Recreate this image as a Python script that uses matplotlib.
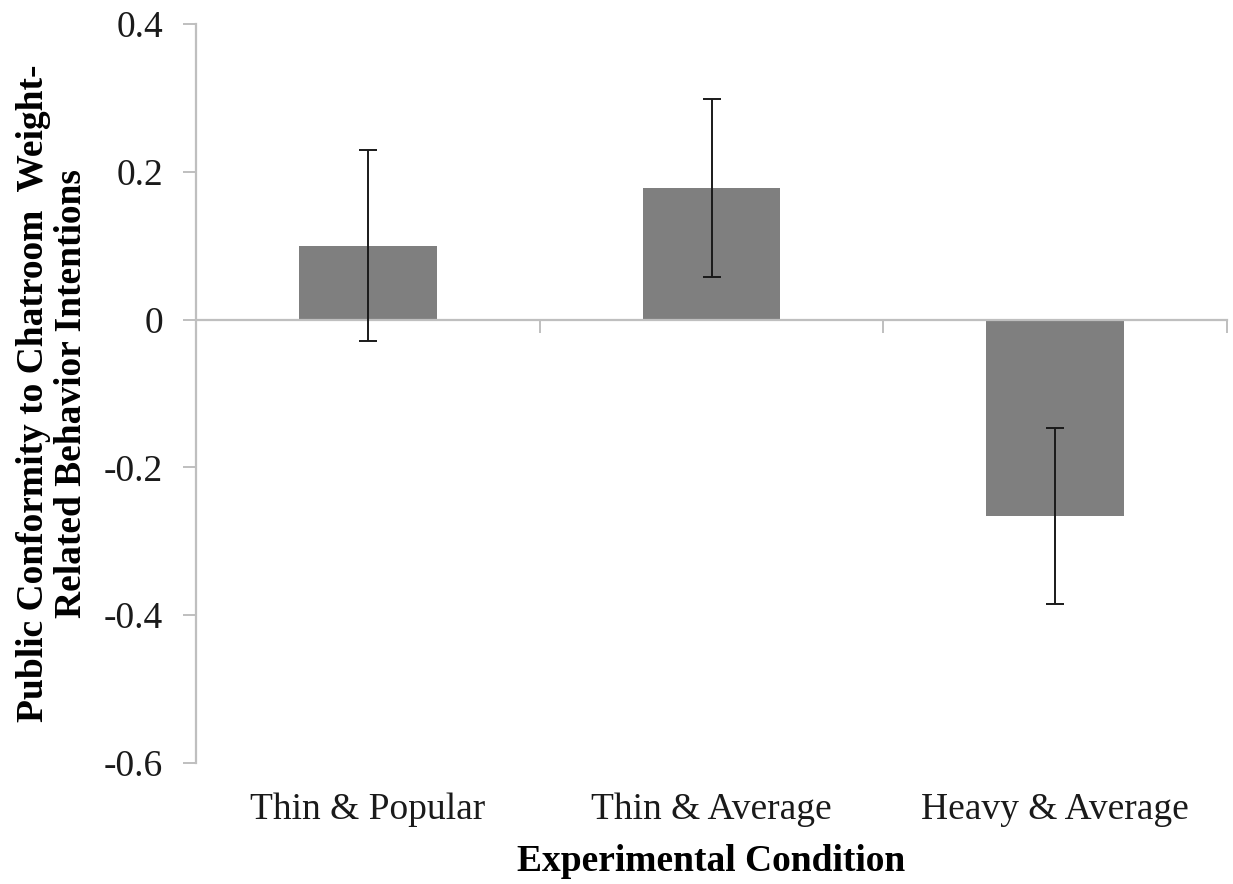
import numpy as np
import matplotlib
matplotlib.use("Agg")
import matplotlib.pyplot as plt
import matplotlib.transforms as mtransforms

# values
conditions = ["Thin & Popular", "Thin & Average", "Heavy & Average"]
means = [0.100, 0.178, -0.266]
errors = [0.129, 0.121, 0.119]
y_ticks = [0.4, 0.2, 0.0, -0.2, -0.4, -0.6]
y_tick_labels = ["0.4", "0.2", "0", "-0.2", "-0.4", "-0.6"]

plt.rcParams["font.family"] = ["Liberation Serif", "DejaVu Serif"]

fig = plt.figure(figsize=(12.33, 8.84), dpi=100)
ax = fig.add_axes([196 / 1233, 1 - 763 / 884, 1031 / 1233, 739 / 884])

axis_grey = "#bfbfbf"
x = np.arange(len(conditions))

ax.bar(x, means, width=0.40, color="#7f7f7f", zorder=2)
ax.errorbar(x, means, yerr=errors, fmt="none", ecolor="#1a1a1a",
            elinewidth=1.4, capsize=6.5, capthick=1.4, zorder=3)

ax.set_xlim(-0.5, len(conditions) - 0.5)
ax.set_ylim(-0.6, 0.4)

# spines: grey y axis on the left, category axis along zero
for side in ["top", "right"]:
    ax.spines[side].set_visible(False)
ax.spines["left"].set_color(axis_grey)
ax.spines["left"].set_linewidth(1.6)
ax.spines["bottom"].set_position(("data", 0))
ax.spines["bottom"].set_color(axis_grey)
ax.spines["bottom"].set_linewidth(1.6)

ax.set_yticks(y_ticks)
ax.set_yticklabels(y_tick_labels)
ax.tick_params(axis="y", direction="out", length=9.5, width=1.4,
               color=axis_grey, pad=14, labelsize=27, labelcolor="#1a1a1a")

# boundary ticks on the zero line, no labels there
ax.set_xticks(np.arange(len(conditions) + 1) - 0.5)
ax.set_xticklabels([])
ax.tick_params(axis="x", direction="out", length=9, width=1.4, color=axis_grey)

# category names sit below the plot area
trans = mtransforms.blended_transform_factory(ax.transData, ax.transAxes)
for xi, name in zip(x, conditions):
    ax.text(xi, -0.0758, name, transform=trans, ha="center", va="baseline",
            fontsize=27, color="#1a1a1a")

ax.text(0.5, -0.146, "Experimental Condition", transform=ax.transAxes,
        ha="center", va="baseline", fontsize=27, fontweight="bold")

ax.text(-0.1392, 0.5,
        "Public Conformity to Chatroom  Weight-\nRelated Behavior Intentions",
        transform=ax.transAxes, rotation=90, ha="center", va="center",
        multialignment="center", fontsize=27, fontweight="bold", linespacing=1.12)

fig.savefig("out.png", dpi=100)
